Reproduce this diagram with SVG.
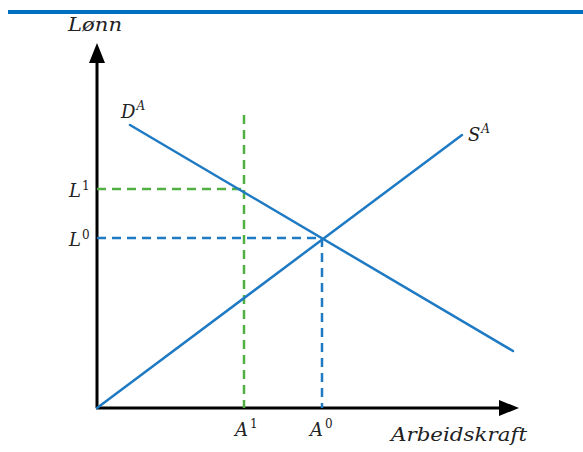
<svg xmlns="http://www.w3.org/2000/svg" width="583" height="452" viewBox="0 0 583 452">
<defs>
<style>
.t{font-family:"DejaVu Serif","Liberation Serif",serif;font-style:italic;fill:#222;font-size:18px}
.s{font-size:12px}
.n{font-style:normal}
.ax{stroke:#000;stroke-width:3;fill:none}
.curve{stroke:#1f7ac4;stroke-width:2.5;fill:none;stroke-linecap:round}
.gd{stroke:#52b043;stroke-width:2.5;stroke-dasharray:9,6;fill:none}
.bd{stroke:#1f7ac4;stroke-width:2.5;stroke-dasharray:9,6;fill:none}
</style>
</defs>
<rect width="583" height="452" fill="#fff"/>
<rect x="8" y="10" width="575" height="4" fill="#0070c0"/>
<g id="axes">
<line class="ax" x1="97" y1="60" x2="97" y2="408"/>
<polygon points="97,43 89,63 105,63" fill="#000"/>
<line class="ax" x1="96" y1="408" x2="502" y2="408"/>
<polygon points="519,408 499,400 499,416" fill="#000"/>
</g>
<g id="connectors">
<line class="gd" x1="97" y1="189" x2="244" y2="189"/>
<line class="gd" x1="244" y1="115" x2="244" y2="408"/>
<line class="bd" x1="97" y1="238" x2="322" y2="238"/>
<line class="bd" x1="322" y1="238" x2="322" y2="408"/>
</g>
<g id="demand">
<line class="curve" x1="130" y1="125" x2="513" y2="351"/>
<text class="t" x="121" y="118">D<tspan class="s" dx="1" dy="-8">A</tspan></text>
</g>
<g id="supply">
<line class="curve" x1="97" y1="408" x2="462" y2="135"/>
<text class="t" x="468" y="141">S<tspan class="s" dx="1" dy="-8">A</tspan></text>
</g>
<g id="labels">
<text class="t" x="68" y="31" font-size="17" textLength="54" lengthAdjust="spacingAndGlyphs">Lønn</text>
<text class="t" x="69" y="197">L<tspan class="s n" dx="1" dy="-7">1</tspan></text>
<text class="t" x="69" y="246">L<tspan class="s n" dx="1" dy="-7">0</tspan></text>
<text class="t" x="235" y="436">A<tspan class="s n" dx="2" dy="-8">1</tspan></text>
<text class="t" x="310" y="436">A<tspan class="s n" dx="2" dy="-8">0</tspan></text>
<text class="t" x="391" y="441" font-size="17" textLength="136" lengthAdjust="spacingAndGlyphs">Arbeidskraft</text>
</g>
</svg>
